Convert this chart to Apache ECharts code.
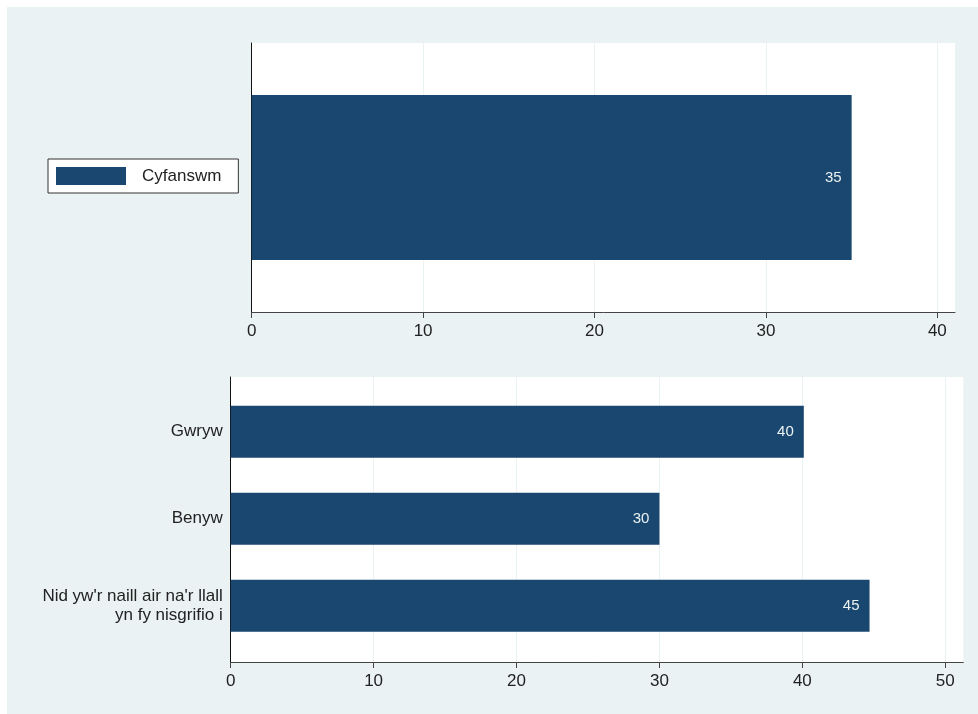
<!DOCTYPE html>
<html>
<head>
<meta charset="utf-8">
<script src="https://cdn.jsdelivr.net/npm/echarts@6/dist/echarts.min.js"></script>
<style>
html,body{margin:0;padding:0;background:#ffffff;}
#wrap{position:absolute;left:7px;top:7px;width:971px;height:707px;background:#eaf2f3;}
#chart{position:absolute;left:0;top:0;width:978px;height:714px;}
</style>
</head>
<body>
<div id="wrap"></div>
<div id="chart"></div>
<script>
// ---- data ----
const totalName = 'Cyfanswm';
const totalCategories = [''];
const totalValues = [35.0];
const genderCategories = ['Gwryw', 'Benyw', "Nid yw'r naill air na'r llall\nyn fy nisgrifio i"];
const genderValues = [40.1, 30.0, 44.7];
const topTicks = [0, 10, 20, 30, 40];
const bottomTicks = [0, 10, 20, 30, 40, 50];

const FONT = "'Liberation Sans', Arial, sans-serif";
const NAVY = '#1a476f';
const BG = '#eaf2f3';
const AXIS = '#444444';
const TXT = '#222222';

const chart = echarts.init(document.getElementById('chart'), null, {renderer: 'canvas'});

function valueAxis(gridIndex, max, ticks, show) {
  return {
    type: 'value', gridIndex: gridIndex, min: 0, max: max, interval: 10, show: show,
    axisLine: {show: true, onZero: false, lineStyle: {color: AXIS, width: 1}},
    axisTick: {show: true, length: 6, lineStyle: {color: AXIS}, customValues: ticks},
    axisLabel: {show: true, customValues: ticks, margin: 11, fontSize: 17, color: TXT, fontFamily: FONT},
    splitLine: {show: true, lineStyle: {color: BG, width: 1}}
  };
}

const labelStyle = {
  show: true, position: 'insideRight', distance: 10,
  fontSize: 15, color: '#eaf2f3', fontFamily: FONT,
  formatter: p => String(Math.round(p.value))
};

const option = {
  animation: false,
  backgroundColor: 'transparent',
  textStyle: {fontFamily: FONT},
  legend: {
    data: [totalName],
    left: 48, top: 159,
    orient: 'vertical',
    backgroundColor: '#ffffff',
    borderColor: '#333333', borderWidth: 1, borderRadius: 0,
    padding: [8, 17, 8, 8],
    itemWidth: 70, itemHeight: 18,
    icon: 'rect',
    selectedMode: false,
    textStyle: {fontSize: 17, color: TXT, fontFamily: FONT, padding: [0, 0, 0, 11]}
  },
  grid: [
    {left: 251.7, right: 23, top: 43, bottom: 402, show: true, backgroundColor: '#ffffff', borderWidth: 0},
    {left: 230.7, right: 14.7, top: 377, bottom: 52, show: true, backgroundColor: '#ffffff', borderWidth: 0},
    {left: 230.7, right: 14.7, top: 388.2, bottom: 64.6, show: false}
  ],
  xAxis: [
    valueAxis(0, 41.03, topTicks, true),
    valueAxis(1, 51.26, bottomTicks, true),
    {type: 'value', gridIndex: 2, min: 0, max: 51.26, show: false}
  ],
  yAxis: [
    {type: 'category', gridIndex: 0, data: totalCategories,
     axisLine: {show: true, lineStyle: {color: '#111111', width: 1}},
     axisTick: {show: false}, axisLabel: {show: false}, splitLine: {show: false}},
    {type: 'value', gridIndex: 1, min: 0, max: 1,
     axisLine: {show: true, onZero: false, lineStyle: {color: '#111111', width: 1}},
     axisTick: {show: false}, axisLabel: {show: false}, splitLine: {show: false}},
    {type: 'category', gridIndex: 2, data: genderCategories, inverse: true,
     axisLine: {show: false}, axisTick: {show: false}, splitLine: {show: false},
     axisLabel: {show: true, margin: 8, fontSize: 17, color: TXT, fontFamily: FONT, align: 'right', lineHeight: 18.5}}
  ],
  series: [
    {name: totalName, type: 'bar', xAxisIndex: 0, yAxisIndex: 0, data: totalValues,
     barWidth: 165, itemStyle: {color: NAVY}, label: labelStyle},
    {name: 'Rhyw', type: 'bar', xAxisIndex: 2, yAxisIndex: 2, data: genderValues,
     barWidth: 52, itemStyle: {color: NAVY}, label: labelStyle}
  ]
};
chart.setOption(option);
</script>
</body>
</html>
